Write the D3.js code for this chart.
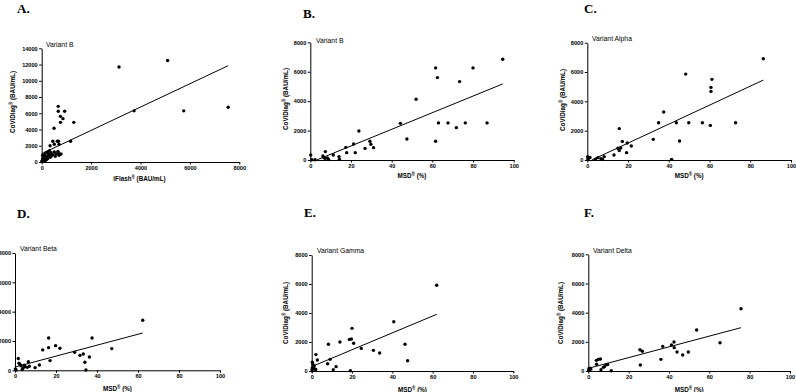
<!DOCTYPE html>
<html><head><meta charset="utf-8">
<script src="https://cdn.jsdelivr.net/npm/d3@7"></script>
<style>body{margin:0;background:#fff}svg{display:block}</style>
</head><body>
<svg id="c" width="796" height="392"></svg>
<script>
// ---- data ----
const panelLetters = ["A.", "B.", "C.", "D.", "E.", "F."];
const variantNames = ["Variant B", "Variant B", "Variant Alpha", "Variant Beta", "Variant Gamma", "Variant Delta"];
const xTitles = ["iFlash", "MSD", "MSD", "MSD", "MSD", "MSD"];
const xUnits = [" (BAU/mL)", " (%)", " (%)", " (%)", " (%)", " (%)"];
const yTitle = "CoViDiag";
const yUnit = " (BAU/mL)";
const xTicksA = [0, 2000, 4000, 6000, 8000];
const yTicksA = [0, 2000, 4000, 6000, 8000, 10000, 12000, 14000];
const xTicksMSD = [0, 20, 40, 60, 80, 100];
const yTicksMSD = [0, 2000, 4000, 6000, 8000];

const dataA = [[3130,11700],[5100,12500],[3740,6300],[5750,6300],[7550,6750],
 [670,6850],[670,6250],[930,6250],[760,5620],[860,5340],[760,4880],[1300,4880],[500,4150],
 [450,2550],[630,2550],[680,2550],[1170,2550],[510,2180],[700,2180],[340,2000],[660,1310],[700,820],
 [310,1400],[240,1230],[175,1150],[380,1150],[510,1230],[580,1030],[690,1030],[780,990],[445,905],
 [310,905],[110,905],[40,820],[150,700],[240,700],[380,700],[70,535],[175,495],[40,410],[110,330],
 [40,205],[150,165],[70,80],[240,410],[340,580],[550,700],[20,50],[90,250],[200,300],[130,600],
 [60,650],[260,1050],[10,120]];
const dataB = [[94.6,6850],[61.6,6260],[62.5,5600],[73.4,5330],[80,6260],[52,4130],[44.3,2490],
 [47.5,1430],[63,2520],[67.7,2520],[76.2,2520],[86.9,2520],[71.8,2200],[61.6,1270],[23.9,1970],
 [21.3,1090],[17.5,860],[17.9,500],[22.1,500],[26.9,790],[29.3,1270],[29.8,1070],[31.1,840],
 [11.3,340],[7.4,570],[6.2,270],[7.2,110],[8.4,140],[14.1,230],[14.3,45],[0.2,340],[0.7,20],
 [2.3,20],[6.5,180],[9,30]];
const dataC = [[86.4,6910],[48.3,5860],[61.2,5500],[60.7,4950],[60.7,4680],[37.5,3270],[35,2545],
 [43.7,2545],[49.8,2545],[56.5,2545],[72.8,2545],[60.4,2360],[15.7,2140],[17.2,1270],[19.6,1160],
 [21.6,955],[32.4,1410],[45.3,1295],[41.4,45],[15,800],[16.4,820],[15.7,640],[19.3,500],[13.1,340],
 [8.3,230],[6.7,90],[5.2,160],[0.2,230],[0.5,100],[1.3,170],[0.3,30],[4,60],[7.5,30]];
const dataD = [[62.3,3410],[37.6,2200],[16.4,2200],[13.5,1390],[16.4,1545],[19.8,1680],[21.9,1500],
 [47.2,1480],[29.1,1230],[33.3,1110],[31.7,1020],[36.3,910],[34.1,545],[34.6,20],[17.1,660],
 [6.5,590],[1.6,800],[1.95,480],[11.9,360],[9.8,180],[3,300],[4,150],[5,250],[6,200],[3.5,50],
 [0.2,100],[0.5,20],[2.5,400],[7,280],[4.5,350]];
const dataE = [[62,5910],[40.7,3400],[20,2940],[18.7,2180],[19.7,2210],[20.8,1910],[14,2000],
 [8.3,1840],[24.6,1560],[30.6,1425],[33.7,1240],[46.3,1840],[47.6,710],[2.1,1130],[2.8,760],
 [9.1,805],[7.9,505],[12.1,300],[10.7,90],[19.2,20],[0.3,600],[0.5,450],[1,300],[1.5,150],
 [0.2,100],[0.8,200],[1.2,380],[0.4,250],[2,100],[0.3,20]];
const dataF = [[75.7,4270],[53.7,2810],[65.3,1940],[42.5,1990],[41.2,1780],[36.9,1690],[42.6,1600],
 [44,1300],[49.6,1300],[46.8,1100],[25.6,1460],[26.8,1350],[36,800],[25.8,410],[11.4,20],[5,800],
 [6,820],[4,730],[4.1,460],[8,300],[8.8,420],[9.6,450],[7.5,250],[6.3,90],[0.3,150],[0.6,80],
 [0.9,200],[0.2,30],[1.2,120]];
const fitA = [[0,1020],[7550,11860]];
const fitB = [[3.1,0],[94.6,5170]];
const fitC = [[2.2,0],[86.4,5450]];
const fitD = [[0,220],[62.3,2545]];
const fitE = [[0,300],[62,3910]];
const fitF = [[0,180],[75.7,2970]];

// ---- layout ----
const layout = [
 {x0:41.7, x1:239.3, y0:162, y1:48.3, lx:17, ly:12.5, vx:46, vy:47, xtY:181, ytX:15, ytY:102, showYT:true},
 {x0:310.3, x1:513.7, y0:160, y1:42.3, lx:303, ly:18, vx:316, vy:43, xtY:178, ytX:288, ytY:99, showYT:true},
 {x0:587.3, x1:791, y0:160, y1:42.7, lx:584, ly:13, vx:592, vy:41, xtY:178, ytX:565, ytY:100, showYT:true},
 {x0:15, x1:220, y0:370.3, y1:253, lx:17, ly:218, vx:20, vy:251, xtY:391, ytX:-12, ytY:312, showYT:false},
 {x0:311.7, x1:513.3, y0:371, y1:255, lx:304, ly:217, vx:317, vy:253, xtY:392, ytX:288, ytY:313, showYT:true},
 {x0:588.3, x1:790, y0:371, y1:254.3, lx:584, ly:217, vx:593, vy:253, xtY:392, ytX:563, ytY:313, showYT:true}
];
const datasets = [dataA, dataB, dataC, dataD, dataE, dataF];
const fits = [fitA, fitB, fitC, fitD, fitE, fitF];

const svg = d3.select("#c");
const sans = "'Liberation Sans', Arial, sans-serif";

layout.forEach((L, i) => {
  const xt = i === 0 ? xTicksA : xTicksMSD;
  const yt = i === 0 ? yTicksA : yTicksMSD;
  const x = d3.scaleLinear().domain([0, xt[xt.length-1]]).range([L.x0, L.x1]);
  const y = d3.scaleLinear().domain([0, yt[yt.length-1]]).range([L.y0, L.y1]);
  const g = svg.append("g");

  const ax = g.append("g").attr("transform", `translate(0,${L.y0})`)
    .call(d3.axisBottom(x).tickValues(xt).tickFormat(d3.format("d")).tickSize(2.5).tickSizeOuter(0).tickPadding(1.5));
  const ay = g.append("g").attr("transform", `translate(${L.x0},0)`)
    .call(d3.axisLeft(y).tickValues(yt).tickFormat(d3.format("d")).tickSize(2.5).tickSizeOuter(0).tickPadding(1.5));
  [ax, ay].forEach(a => {
    a.selectAll("path,line").attr("stroke", "#000").attr("stroke-width", 1);
    a.selectAll("text").attr("font-family", sans).attr("font-size", 5.6).attr("font-weight", "bold").attr("fill", "#000");
  });

  // fit line
  g.append("path").datum(fits[i])
    .attr("d", d3.line().x(d => x(d[0])).y(d => y(d[1])))
    .attr("stroke", "#000").attr("stroke-width", 1).attr("fill", "none");

  // points
  g.selectAll("circle.p").data(datasets[i]).join("circle")
    .attr("cx", d => x(d[0])).attr("cy", d => y(d[1])).attr("r", 1.7).attr("fill", "#000");

  // panel letter
  g.append("text").attr("x", L.lx).attr("y", L.ly).text(panelLetters[i])
    .attr("font-family", "'Liberation Serif', 'Times New Roman', serif").attr("font-size", 13)
    .attr("font-weight", "bold").attr("fill", "#000");
  // variant name
  g.append("text").attr("x", L.vx).attr("y", L.vy).text(variantNames[i])
    .attr("font-family", sans).attr("font-size", 6.8).attr("fill", "#000");
  // x title
  const xtT = g.append("text").attr("x", (L.x0 + L.x1) / 2 + (i === 0 ? -1 : 0)).attr("y", L.xtY)
    .attr("text-anchor", "middle").attr("font-family", sans).attr("font-size", 6.3).attr("font-weight", "bold").attr("fill", "#000");
  xtT.append("tspan").text(xTitles[i]);
  xtT.append("tspan").text("®").attr("font-size", 4.5).attr("dy", -2.5);
  xtT.append("tspan").text(xUnits[i]).attr("dy", 2.5);
  // y title
  if (L.showYT) {
    const ytT = g.append("text").attr("transform", `translate(${L.ytX},${L.ytY}) rotate(-90)`)
      .attr("text-anchor", "middle").attr("font-family", sans).attr("font-size", 6.3).attr("font-weight", "bold").attr("fill", "#000");
    ytT.append("tspan").text(yTitle);
    ytT.append("tspan").text("®").attr("font-size", 4.5).attr("dy", -2.5);
    ytT.append("tspan").text(yUnit).attr("dy", 2.5);
  }
});
</script>
</body></html>
